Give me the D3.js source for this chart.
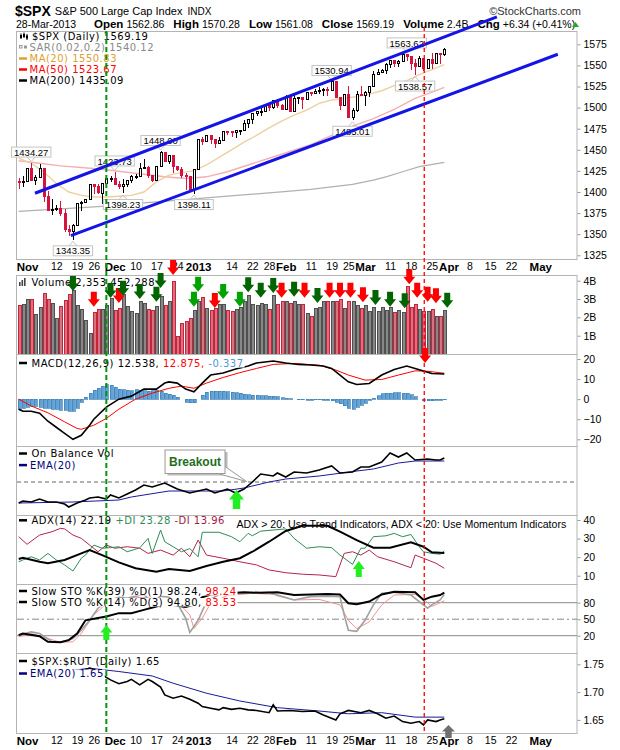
<!DOCTYPE html>
<html>
<head>
<meta charset="utf-8">
<script src="https://cdn.jsdelivr.net/npm/d3@7"></script>
<style>
  body { margin: 0; background: #fff; }
  svg { display: block; font-family: "Liberation Sans", Arial, sans-serif; }
  .lg { font-family: "DejaVu Sans", Verdana, sans-serif; font-size: 10px; letter-spacing: 0.5px; white-space: pre; }
</style>
</head>
<body>
<svg id="chart" width="620" height="750"></svg>
<script>
// $SPX daily, 26-Oct-2012 .. 28-Mar-2013 (bar index 0..102)
const opens = [1412.97,1410.99,1412.20,1427.59,1414.02,1417.26,1428.27,1394.53,1377.55,1379.86,
  1380.03,1374.64,1355.41,1353.36,1359.88,1386.82,1387.79,1391.03,1409.15,1406.29,
  1398.77,1409.96,1415.95,1416.34,1409.46,1407.05,1409.43,1413.95,1418.07,1418.55,
  1427.84,1428.48,1419.45,1413.54,1430.47,1446.79,1435.81,1443.67,1430.15,1426.66,
  1419.83,1418.10,1402.43,1426.19,1462.42,1459.37,1466.47,1461.89,1457.15,1461.02,
  1472.12,1472.05,1470.67,1472.33,1472.63,1480.95,1485.98,1492.56,1494.81,1494.82,
  1502.96,1500.18,1507.84,1501.96,1498.11,1513.17,1495.71,1511.29,1512.12,1509.39,
  1517.93,1517.01,1519.43,1520.33,1521.38,1519.79,1530.94,1511.95,1502.42,1515.60,
  1487.85,1496.94,1515.99,1514.68,1518.20,1525.20,1539.79,1541.46,1544.26,1551.15,
  1556.22,1552.48,1554.52,1563.21,1560.70,1552.10,1548.34,1558.71,1545.90,1556.89,
  1551.69,1563.75,1562.86]
const highs = [1417.09,1418.76,1428.35,1434.27,1419.90,1433.38,1428.27,1401.23,1391.39,1384.87,
  1388.81,1380.13,1360.62,1362.03,1386.89,1389.77,1391.25,1409.16,1409.15,1409.01,
  1410.31,1419.70,1418.86,1423.73,1413.14,1415.56,1413.95,1420.34,1421.64,1434.00,
  1438.59,1431.36,1419.45,1430.67,1448.00,1447.75,1443.70,1443.67,1430.15,1429.42,
  1422.80,1418.10,1426.74,1462.43,1465.47,1467.94,1466.47,1461.89,1464.73,1472.30,
  1472.75,1472.05,1473.31,1473.96,1485.16,1485.98,1492.56,1496.13,1502.27,1503.26,
  1503.23,1509.35,1509.94,1504.19,1514.41,1513.17,1514.96,1512.53,1512.90,1518.31,
  1518.31,1522.29,1524.69,1523.14,1524.24,1530.94,1530.94,1511.95,1515.64,1525.84,
  1498.99,1520.08,1525.34,1519.99,1525.27,1543.47,1545.25,1545.78,1552.48,1556.27,
  1556.77,1556.39,1563.32,1563.62,1560.70,1557.25,1561.56,1558.71,1557.74,1564.91,
  1563.95,1564.07,1570.28]
const lows = [1403.28,1405.95,1412.20,1412.91,1408.13,1417.26,1388.14,1377.51,1373.03,1377.19,
  1371.39,1352.50,1348.05,1343.35,1359.88,1377.04,1386.39,1391.03,1397.68,1398.03,
  1385.43,1409.04,1411.63,1408.46,1403.65,1398.23,1405.93,1410.90,1415.64,1418.55,
  1426.76,1416.00,1411.88,1413.54,1430.47,1435.80,1432.82,1422.58,1424.66,1416.43,
  1401.80,1401.58,1398.11,1426.19,1455.53,1458.99,1456.62,1451.64,1457.15,1461.02,
  1467.58,1465.69,1463.76,1467.60,1472.63,1475.81,1481.16,1489.90,1489.46,1494.82,
  1496.33,1498.09,1500.11,1496.76,1498.11,1495.02,1495.71,1504.71,1498.49,1509.39,
  1513.61,1515.61,1515.93,1514.02,1514.14,1519.79,1511.41,1497.29,1502.42,1487.85,
  1485.01,1494.88,1514.46,1501.48,1512.29,1525.20,1538.11,1541.46,1539.73,1547.36,
  1548.24,1548.25,1554.52,1555.74,1545.13,1538.57,1548.34,1543.55,1545.90,1546.22,
  1551.69,1551.90,1561.08]
const closes = [1411.94,1412.16,1427.59,1414.20,1417.26,1428.39,1394.53,1377.51,1379.85,1380.03,
  1374.53,1355.49,1353.33,1359.88,1386.89,1387.81,1391.03,1409.15,1406.29,1398.94,
  1409.93,1415.95,1416.18,1409.46,1407.05,1409.28,1413.94,1418.07,1418.55,1427.84,
  1428.48,1419.45,1413.58,1430.36,1446.79,1435.81,1443.69,1430.15,1426.66,1419.83,
  1418.10,1402.43,1426.19,1462.42,1459.37,1466.47,1461.89,1457.15,1461.02,1472.12,
  1472.05,1470.68,1472.34,1472.63,1480.94,1485.98,1492.56,1494.81,1494.82,1502.96,
  1500.18,1507.84,1501.96,1498.11,1513.17,1495.71,1511.29,1512.12,1509.39,1517.93,
  1517.01,1519.43,1520.33,1521.38,1519.79,1530.94,1511.95,1502.42,1515.60,1487.85,
  1496.94,1515.99,1514.68,1518.20,1525.20,1539.79,1541.46,1544.26,1551.18,1556.22,
  1552.48,1554.52,1563.23,1560.70,1552.10,1548.34,1558.71,1545.80,1556.89,1551.69,
  1563.77,1562.85,1569.19]
// volume in billions
const volume = [2.67,2.71,2.95,2.95,2.18,2.55,3.31,2.98,2.76,1.95,
  2.58,2.91,3.22,3.45,2.62,2.44,1.85,1.13,2.27,2.44,
  2.44,2.67,3.04,2.35,2.49,3.22,2.58,2.31,2.22,2.89,
  2.76,2.44,2.36,2.58,3.13,2.62,2.85,3.98,0.95,1.67,
  1.80,1.95,2.40,2.85,3.07,2.49,2.40,2.49,2.71,2.71,
  2.40,2.34,2.44,2.53,2.85,3.18,2.71,2.64,2.76,2.71,
  2.45,3.18,2.71,2.89,2.85,2.76,2.85,2.71,2.71,2.22,
  2.04,2.49,2.53,2.85,2.85,2.89,2.85,3.00,2.49,2.89,
  2.85,2.67,2.49,2.67,2.34,2.53,2.34,2.53,2.40,2.53,
  2.27,2.40,2.27,3.67,2.53,2.71,2.45,2.34,2.31,2.45,
  2.04,2.04,2.35]

// overlays and indicators: [bar index, value]
const ma20 = [[0,1440],[3,1434],[6,1424],[9,1410],[12,1400],[15,1396],[18,1394],[21,1394],[24,1395],[27,1396],
  [30,1400],[33,1412],[36,1420],[39,1423],[42,1425],[45,1432],[48,1441],[51,1450],[54,1459],[57,1467],
  [60,1476],[63,1484],[66,1491],[69,1497],[72,1505],[75,1509],[78,1511],[81,1513],[84,1516],[87,1520],
  [90,1526],[93,1532],[96,1539],[99,1545],[102,1551]]
const ma50 = [[0,1437],[5,1434],[10,1431],[15,1429],[20,1427],[25,1424],[30,1421],[35,1418],[40,1416],[45,1418],
  [50,1424],[55,1432],[60,1440],[65,1448],[70,1456],[75,1467],[80,1478],[85,1487],[90,1498],[95,1511],
  [100,1520],[102,1524]]
const ma200 = [[0,1377],[10,1380],[20,1383],[30,1387],[40,1391],[50,1395],[60,1399],[70,1403],[80,1409],
  [85,1414],[88,1418],[92,1424],[96,1430],[102,1435]]

const macdLine = [[0,-5],[1,-6],[3,-6],[5,-7],[7,-11],[9,-14],[11,-17],[13,-20],[15,-18],[17,-13],[18,-10],
  [21,-4],[24,0],[27,1.5],[30,5],[33,5],[35,8],[36,8.6],[38,8],[40,5],[42,3.7],[44,8],[46,12],[49,13],
  [52,15],[55,16.5],[57,18],[61,19],[64,18],[67,17.3],[70,17],[73,16.5],[75,15.3],[77,12],[79,8.6],
  [81,7.3],[84,7.8],[87,12],[90,14.8],[93,16.5],[95,15.3],[97,14],[99,12.8],[102,12.5]]
const macdSignal = [[0,0],[3,-3.4],[7,-6.8],[11,-11.3],[14,-14.6],[15,-15],[18,-13],[21,-9.6],[24,-5],
  [28,0],[32,3],[36,5.4],[39,6.5],[42,5.4],[45,8],[49,10.8],[53,13.2],[57,15.3],[61,17.3],[66,17.8],
  [72,16.9],[76,14.5],[79,12],[83,9.5],[87,9.8],[91,12],[95,14.1],[98,13.9],[102,12.9]]
const macdHist = [-5,-4.5,-4,-3.5,-3.5,-4,-4.5,-4.5,-5,-5,
  -5.5,-5.5,-6,-6,-4.5,-1.5,1,3,4.5,5.5,
  6.5,7.2,7,6,5,4.6,4.5,4.3,4.6,4.5,
  4.2,4,4.3,4.5,4,3,2.5,2,1,0,
  -1.5,-1.8,-1.7,0,2,3.5,4,4,4,4,
  3.8,3.5,3.3,3,2.5,2.2,2,2,1.8,1.7,
  1.5,1.5,1.2,0.8,0.5,0.2,0,-0.3,-0.3,-0.5,
  -0.5,-0.3,-0.2,-0.5,-0.5,-0.8,-1.5,-2.3,-3.2,-4.5,
  -5,-4,-3,-2,-0.5,0.5,1.8,2.8,3,3,
  3.2,3.2,3,3,2.2,1.2,0,-0.8,-0.8,-0.7,
  -0.6,-0.5,-0.34]

const obv = [[0,12],[1,14],[3,13],[5,16],[7,13],[9,13],[11,11],[12,8],[14,12],[16,15],[17,17],[19,18],
  [21,16],[22,20],[24,17],[26,21],[28,25],[30,30],[32,28],[35,32],[37,28],[38,26],[41,22],[43,24],
  [45,26],[47,22],[50,26],[52,22],[54,26],[56,33],[58,41],[61,39],[62,42],[64,38],[66,43],[69,42],
  [72,45],[75,49],[77,42],[80,43],[82,48],[84,48],[87,53],[89,62],[91,58],[93,62],[95,55],[98,56],
  [100,55],[101,55],[102,57]]
const obvEma = [[0,12],[13,13],[24,15],[27,18],[36,24],[49,24],[54,27],[60,33],[64,36],[72,39],[81,44],
  [85,46],[91,52],[95,54],[102,54]]
const obvBreakout = 33

const adx = [[0,19],[1,19.7],[5,17.5],[7,16.7],[11,18.5],[15,22],[17,23.8],[20,21.1],[24,17.2],[28,14],
  [33,12.2],[36,13.6],[41,12.5],[45,15.2],[49,17.5],[53,19.4],[56,22.9],[60,28.3],[64,34.1],[68,36.9],
  [74,36.9],[77,33.7],[81,29.2],[85,25.1],[89,25.1],[94,28],[97,25.6],[99,22.6],[102,22.2]]
const plusDI = [[0,17.5],[1,18.5],[3,20.2],[5,18.5],[7,22],[9,18.5],[11,15.8],[13,12.5],[15,19.4],[16,21.1],
  [18,26.5],[20,24.8],[22,25.1],[24,25.6],[26,22.9],[29,25],[31,30.1],[32,22],[34,34.6],[35,28.3],
  [37,25.6],[39,22.9],[41,24.6],[43,20.2],[44,33.4],[48,33.4],[51,31],[53,28.3],[55,32.8],[56,31.5],
  [58,34],[61,34.6],[64,35.2],[66,30.1],[69,24.8],[72,25.6],[75,25.1],[77,21.1],[80,16.1],[82,24.8],
  [83,24.8],[85,31],[88,31.5],[90,32.8],[92,31],[94,32.2],[96,25.6],[97,22.9],[99,22],[101,21.6],[102,23.3]]
const minusDI = [[0,31],[2,26.9],[5,31.9],[8,33.7],[10,35.5],[11,35.2],[13,31.9],[15,30.1],[17,26.5],
  [19,22.9],[21,26.5],[23,24.8],[26,25.6],[29,24.8],[31,22],[34,23.8],[37,21.1],[39,24.8],[41,20.2],
  [43,29.2],[45,21.1],[49,19.4],[53,17.5],[57,15.8],[60,13.1],[64,11.6],[68,10.8],[72,10.4],[76,9.5],
  [77,15.8],[78,22],[80,22.9],[82,21.1],[84,23.8],[86,20.2],[90,17.5],[94,14.3],[95,21.1],[97,19.4],
  [100,16.7],[102,14]]

const stoK39 = [[0,21],[1,24],[5,19],[7,9],[10,8],[12,12],[14,24],[16,48],[19,52],[21,55],[24,61],[27,61],
  [30,67],[33,73],[35,78],[37,76],[40,72],[42,76],[44,90],[46,95],[50,97],[54,99],[58,98],[62,99],
  [66,94],[70,95],[74,96],[77,95],[79,79],[81,77],[84,82],[87,95],[90,100],[95,99],[97,85],[99,91],
  [101,94],[102,98.2]]
const stoK14 = [[0,21],[3,27],[5,24],[8,9],[10,8],[13,15],[15,30],[17,48],[19,70],[20,76],[22,85],[24,90],
  [26,88],[28,92],[30,95],[32,80],[34,92],[36,90],[38,79],[40,52],[41,26],[43,48],[45,82],[48,95],
  [52,97],[56,98],[60,99],[62,93],[66,85],[70,91],[74,92],[77,91],[78,58],[79,30],[81,28],[83,48],
  [85,76],[87,97],[90,99],[94,94],[96,82],[98,70],[99,76],[101,85],[102,94.8]]
const stoD3 = [[0,18],[3,24],[7,15],[10,8],[13,9],[15,24],[18,58],[21,78],[24,86],[28,90],[32,88],[36,87],
  [38,82],[41,58],[42,33],[44,52],[46,79],[50,93],[56,97],[62,95],[66,85],[72,86],[77,76],[79,48],
  [81,33],[84,45],[87,76],[90,94],[95,95],[97,87],[99,73],[102,83.5]]

const spxRut = [[0,1.733],[5,1.731],[10,1.734],[14,1.735],[17,1.743],[19,1.738],[20,1.731],[22,1.722],
  [24,1.715],[26,1.719],[27,1.723],[29,1.713],[31,1.723],[32,1.719],[34,1.709],[35,1.695],[37,1.689],
  [39,1.693],[41,1.687],[43,1.680],[44,1.674],[46,1.671],[48,1.668],[49,1.672],[51,1.669],[53,1.671],
  [55,1.668],[57,1.667],[60,1.663],[61,1.677],[62,1.666],[65,1.667],[68,1.665],[71,1.666],[73,1.659],
  [76,1.650],[77,1.661],[79,1.667],[82,1.663],[84,1.667],[86,1.661],[88,1.653],[90,1.657],[92,1.647],
  [94,1.644],[96,1.647],[97,1.641],[98,1.650],[100,1.647],[101,1.650],[102,1.652]]
const spxRutEma = [[0,1.733],[10,1.736],[17,1.743],[24,1.737],[32,1.729],[37,1.716],[45,1.698],[53,1.684],
  [62,1.672],[72,1.666],[79,1.661],[87,1.663],[95,1.655],[102,1.655]]

// date axis
const tickIdx = [2,9,14,18,23,28,33,38,43,51,56,60,64,70,75,79,83,89,94,99,103,108,113,118,125]
const tickText = ['Nov','12','19','26','Dec','10','17','24','2013','14','22','28','Feb','11','19','25',
  'Mar','11','18','25','Apr','8','15','22','May']
const monthLabels = ['Nov','Dec','2013','Feb','Mar','Apr','May']

// annotations: [bar index, price, side]
const priceNotes = [[3,1434.27,'hi'],[23,1423.73,'hi'],[34,1448.00,'hi'],[13,1343.35,'lo'],[25,1398.23,'lo'],
  [42,1398.11,'lo'],[75,1530.94,'hi'],[80,1485.01,'lo'],[93,1563.62,'hi'],[95,1538.57,'lo']]
const channelUpper = [[3.9,1398.5],[114.6,1607.5]]
const channelLower = [[12.5,1348.2],[129.2,1563.2]]
const greenMarker = 21
const redMarker = 97
// volume arrows: [bar index, tip (B), colour key]
const volArrows = [[13,3.44,'dk'],[18,2.58,'r'],[22,3.06,'dk'],[24,2.78,'r'],[25,3.18,'dk'],[29,3.0,'dk'],
  [33,2.85,'dk'],[34,3.6,'dk'],[37,4.31,'r'],[42,2.58,'g'],[43,3.4,'g'],[47,2.51,'r'],[49,3.0,'g'],
  [53,2.58,'g'],[55,3.37,'dk'],[58,3.07,'dk'],[61,3.33,'dk'],[63,3.07,'r'],[66,3.13,'dk'],[68.5,3.07,'r'],
  [71.6,2.78,'dk'],[74.5,3.07,'r'],[77,3.07,'r'],[79.5,3.07,'r'],[82.5,2.82,'r'],[85.5,2.67,'dk'],
  [89,2.58,'dk'],[92.5,2.49,'dk'],[93.6,3.8,'r'],[95.5,3.07,'r'],[98,2.85,'r'],[100,2.77,'r'],[102.7,2.53,'dk']]
const arrowColors = { dk: '#006400', g: '#00a300', r: '#ff0000' }

const quote = [['Open','1562.86'],['High','1570.28'],['Low','1561.08'],['Close','1569.19'],
  ['Volume','2.4B'],['Chg','+6.34 (+0.41%)']]

// ---------------------------------------------------------------

const svg = d3.select('#chart')
const L = 17, R = 577
const RED = '#d6123e'

const x = d3.scaleLinear().domain([-0.41, 133.8]).range([L, R])

const panels = {
  price: [31, 259], vol: [275, 354], macd: [354, 446], obv: [446, 515],
  adx: [515, 584], sto: [584, 653], rut: [653, 733]
}

const priceY = d3.scaleLinear().domain([1325, 1575]).range([255.3, 44.3])
const volY = d3.scaleLinear().domain([0, 4]).range([354, 280.7])
const macdY = d3.scaleLinear().domain([-20, 20]).range([439.3, 359])
const obvY = d3.scaleLinear().domain([0, 69]).range([515, 446])
const adxY = d3.scaleLinear().domain([10, 40]).range([575.7, 520])
const stoY = d3.scaleLinear().domain([20, 80]).range([635.7, 602.7])
const rutY = d3.scaleLinear().domain([1.65, 1.75]).range([719.9, 664.3])

const defs = svg.append('defs')
Object.entries(panels).forEach(([k, [t, b]]) => {
  defs.append('clipPath').attr('id', 'clip-' + k)
    .append('rect').attr('x', L).attr('y', t).attr('width', R - L).attr('height', b - t)
})

// frames
Object.values(panels).forEach(([t, b]) => {
  svg.append('rect')
    .attr('x', L - 0.5).attr('y', t + 0.5)
    .attr('width', R - L + 0.5).attr('height', b - t)
    .attr('fill', 'none').attr('stroke', '#b4b4b4')
})

function rightAxis(y, vals, fmt) {
  const g = svg.append('g')
    .attr('transform', `translate(${R + 0.5},0)`)
    .call(d3.axisRight(y).tickValues(vals).tickSize(3).tickPadding(3).tickFormat(fmt))
  g.select('.domain').remove()
  g.selectAll('line').attr('stroke', '#999')
  g.selectAll('text').attr('font-size', 10.5).attr('fill', '#000')
    .attr('font-family', '"Liberation Sans", Arial, sans-serif')
}
rightAxis(priceY, d3.range(1325, 1576, 25), d3.format('d'))
rightAxis(volY, [1, 2, 3, 4], d => d + 'B')
rightAxis(macdY, [-20, -10, 0, 10, 20], d3.format('d'))
rightAxis(adxY, [10, 20, 30, 40], d3.format('d'))
rightAxis(stoY, [20, 50, 80], d3.format('d'))
rightAxis(rutY, [1.65, 1.70, 1.75], d3.format('.2f'))

function dateAxis(yPos, pad) {
  const g = svg.append('g')
    .attr('transform', `translate(0,${yPos})`)
    .call(d3.axisBottom(x).tickValues(tickIdx).tickSize(0).tickPadding(pad)
      .tickFormat((d, i) => tickText[i]))
  g.select('.domain').remove()
  g.selectAll('text')
    .attr('fill', '#000')
    .attr('font-family', '"Liberation Sans", Arial, sans-serif')
    .attr('font-weight', (d, i) => monthLabels.includes(tickText[i]) ? 'bold' : 'normal')
    .attr('font-size', (d, i) => monthLabels.includes(tickText[i]) ? 11.5 : 10.5)
}
dateAxis(259, 4)
dateAxis(733, 3.5)

// header
const t1 = svg.append('text').attr('x', 15).attr('y', 16).attr('font-size', 14).attr('font-weight', 'bold').text('$SPX')
const t2 = svg.append('text').attr('x', 15 + t1.node().getComputedTextLength() + 4).attr('y', 15)
  .attr('font-size', 11).text('S&P 500 Large Cap Index')
svg.append('text').attr('x', +t2.attr('x') + t2.node().getComputedTextLength() + 5).attr('y', 15)
  .attr('font-size', 10).text('INDX')
svg.append('text').attr('x', 581).attr('y', 15).attr('font-size', 11).attr('text-anchor', 'end')
  .attr('fill', '#333').text('\u00A9StockCharts.com')
svg.append('text').attr('x', 16).attr('y', 28).attr('font-size', 10.5).text('28-Mar-2013')
let cursor = 94
quote.forEach(([lab, val]) => {
  const a = svg.append('text').attr('x', cursor).attr('y', 28).attr('font-size', 11.5)
    .attr('font-weight', 'bold').text(lab)
  cursor += a.node().getComputedTextLength() + 3
  const b = svg.append('text').attr('x', cursor).attr('y', 28).attr('font-size', 10.5).text(val)
  cursor += b.node().getComputedTextLength() + 9
})
svg.append('polygon').attr('points', '572,27 579,27 575.5,22').attr('fill', '#22aa22')

// price panel
const pg = svg.append('g').attr('clip-path', 'url(#clip-price)')
const line = y => d3.line().x(d => x(d[0])).y(d => y(d[1]))

pg.append('path').datum(ma200).attr('d', line(priceY)).attr('fill', 'none').attr('stroke', '#b0b0b0').attr('stroke-width', 1.2)
pg.append('path').datum(ma50).attr('d', line(priceY)).attr('fill', 'none').attr('stroke', '#f4b0b0').attr('stroke-width', 1.4)
pg.append('path').datum(ma20).attr('d', line(priceY)).attr('fill', 'none').attr('stroke', '#eed0a0').attr('stroke-width', 1.4)

const cg = pg.append('g').attr('shape-rendering', 'crispEdges')
closes.forEach((c, i) => {
  const o = opens[i]
  const prev = i ? closes[i - 1] : opens[0]
  const col = c < prev ? RED : '#000'
  const px = Math.round(x(i))
  cg.append('line')
    .attr('x1', px + 0.5).attr('x2', px + 0.5)
    .attr('y1', priceY(highs[i])).attr('y2', priceY(lows[i]))
    .attr('stroke', col)
  const top = priceY(Math.max(o, c)), bot = priceY(Math.min(o, c))
  cg.append('rect')
    .attr('x', px - 0.5).attr('y', top)
    .attr('width', 2).attr('height', Math.max(bot - top, 1))
    .attr('fill', c >= o ? '#fff' : col).attr('stroke', col)
})

// volume
const vg = svg.append('g').attr('clip-path', 'url(#clip-vol)').attr('shape-rendering', 'crispEdges')
vg.selectAll('rect').data(volume).join('rect')
  .attr('x', (d, i) => Math.round(x(i)) - 1)
  .attr('y', d => volY(d))
  .attr('width', 3)
  .attr('height', d => volY(0) - volY(d))
  .attr('fill', (d, i) => closes[i] < (i ? closes[i - 1] : opens[0]) ? '#d7727e' : '#888')
  .attr('stroke', (d, i) => closes[i] < (i ? closes[i - 1] : opens[0]) ? '#c4243e' : '#505050')

// MACD
const mg = svg.append('g').attr('clip-path', 'url(#clip-macd)')
mg.append('g').attr('shape-rendering', 'crispEdges')
  .selectAll('rect').data(macdHist).join('rect')
  .attr('x', (d, i) => Math.round(x(i)) - 1)
  .attr('y', d => Math.min(macdY(d), macdY(0)))
  .attr('width', 3)
  .attr('height', d => Math.abs(macdY(d) - macdY(0)))
  .attr('fill', '#5ea2d8').attr('stroke', '#3c7fb8').attr('stroke-width', 0.7)
mg.append('path').datum(macdSignal).attr('d', line(macdY)).attr('fill', 'none').attr('stroke', '#ff0000').attr('stroke-width', 1)
mg.append('path').datum(macdLine).attr('d', line(macdY)).attr('fill', 'none').attr('stroke', '#000').attr('stroke-width', 1.6)

// OBV
const og = svg.append('g').attr('clip-path', 'url(#clip-obv)')
og.append('line').attr('x1', L).attr('x2', R).attr('y1', obvY(obvBreakout)).attr('y2', obvY(obvBreakout))
  .attr('stroke', '#999').attr('stroke-width', 1.5).attr('stroke-dasharray', '4,3')
og.append('path').datum(obvEma).attr('d', line(obvY)).attr('fill', 'none').attr('stroke', '#1a1a9a').attr('stroke-width', 1)
og.append('path').datum(obv).attr('d', line(obvY)).attr('fill', 'none').attr('stroke', '#000').attr('stroke-width', 1.6)

// ADX
const ag = svg.append('g').attr('clip-path', 'url(#clip-adx)')
ag.append('path').datum(minusDI).attr('d', line(adxY)).attr('fill', 'none').attr('stroke', '#b3244e').attr('stroke-width', 1)
ag.append('path').datum(plusDI).attr('d', line(adxY)).attr('fill', 'none').attr('stroke', '#2e8b57').attr('stroke-width', 1)
ag.append('path').datum(adx).attr('d', line(adxY)).attr('fill', 'none').attr('stroke', '#000').attr('stroke-width', 2)

// Slow stochastics
const sg = svg.append('g').attr('clip-path', 'url(#clip-sto)')
;[80, 20].forEach(v => sg.append('line').attr('x1', L).attr('x2', R).attr('y1', stoY(v)).attr('y2', stoY(v))
  .attr('stroke', '#888').attr('stroke-width', 1))
sg.append('line').attr('x1', L).attr('x2', R).attr('y1', stoY(50)).attr('y2', stoY(50))
  .attr('stroke', '#888').attr('stroke-dasharray', '7,3,2,3')
sg.append('path').datum(stoD3).attr('d', line(stoY)).attr('fill', 'none').attr('stroke', '#f49494').attr('stroke-width', 1)
sg.append('path').datum(stoK14).attr('d', line(stoY)).attr('fill', 'none').attr('stroke', '#a0a0a0').attr('stroke-width', 1.6)
sg.append('path').datum(stoK39).attr('d', line(stoY)).attr('fill', 'none').attr('stroke', '#000').attr('stroke-width', 2)

// $SPX:$RUT
const rg = svg.append('g').attr('clip-path', 'url(#clip-rut)')
rg.append('path').datum(spxRutEma).attr('d', line(rutY)).attr('fill', 'none').attr('stroke', '#1a1a9a').attr('stroke-width', 1)
rg.append('path').datum(spxRut).attr('d', line(rutY)).attr('fill', 'none').attr('stroke', '#000').attr('stroke-width', 1.6)

// legends
function legendRow(tx, ty, parts, marker) {
  const g = svg.append('g')
  const bg = g.append('rect').attr('fill', '#fff')
  const t = g.append('text').attr('class', 'lg').attr('x', tx).attr('y', ty)
  parts.forEach(([s, c]) => t.append('tspan').attr('fill', c).text(s))
  const b = t.node().getBBox()
  bg.attr('x', 18).attr('y', b.y + 1.5).attr('width', b.x + b.width + 1 - 18).attr('height', b.height - 2.5)
  if (marker) {
    g.append('line').attr('x1', 19).attr('x2', 27).attr('y1', ty - 3.5).attr('y2', ty - 3.5)
      .attr('stroke', marker).attr('stroke-width', 2.5)
  }
  return g
}

const r1 = legendRow(32, 39.8, [['$SPX (Daily) 1569.19', '#000']])
;[[21, 33.5, 39, 35, 38], [24, 32.5, 38, 34, 37], [27, 34, 40, 35.5, 38.5]].forEach(([cx, y1, y2, b1, b2]) => {
  r1.append('line').attr('x1', cx).attr('x2', cx).attr('y1', y1).attr('y2', y2).attr('stroke', '#000')
  r1.append('rect').attr('x', cx - 1).attr('y', b1).attr('width', 2).attr('height', b2 - b1).attr('fill', '#000')
})
const r2 = legendRow(29.5, 51, [['SAR(0.02,0.2) 1540.12', '#8a8a8a']])
r2.append('rect').attr('x', 19.5).attr('y', 45.5).attr('width', 2.5).attr('height', 2.5).attr('fill', 'none').attr('stroke', '#999')
r2.append('rect').attr('x', 24).attr('y', 45.5).attr('width', 3).attr('height', 3).attr('fill', '#999')
legendRow(29.5, 62, [['MA(20) 1550.83', '#e0a030']], '#e0a030')
legendRow(29.5, 73, [['MA(50) 1523.67', '#ff0000']], '#ff0000')
legendRow(29.5, 84, [['MA(200) 1435.09', '#000']], '#000')

const rv = legendRow(31.5, 285.5, [['Volume 2,353,452,288', '#000']])
;[[19, 4], [21.5, 6], [24, 8]].forEach(([bx, h]) => rv.append('rect').attr('x', bx).attr('y', 286 - h)
  .attr('width', 1.6).attr('height', h).attr('fill', '#444'))

legendRow(31.5, 366.5, [['MACD(12,26,9) 12.538, ', '#000'], ['12.875, ', '#ff0000'], ['-0.337', '#4a9ad4']], '#000')
legendRow(31.5, 457, [['On Balance Vol', '#000']], '#000')
legendRow(30, 468.6, [['EMA(20)', '#000080']], '#000080')
legendRow(31.5, 523.8, [['ADX(14) 22.19 ', '#000'], ['+DI 23.28 ', '#2e8b57'], ['-DI 13.96', '#a01840']], '#000')
svg.append('text').attr('x', 236.5).attr('y', 528).attr('font-size', 10.6)
  .text('ADX > 20: Use Trend Indicators, ADX < 20: Use Momentum Indicators')
legendRow(31.5, 594.5, [['Slow STO %K(39) %D(1) 98.24, ', '#000'], ['98.24', '#ff0000']], '#000')
legendRow(31.5, 605.5, [['Slow STO %K(14) %D(3) 94.80, ', '#000'], ['83.53', '#ff0000']], '#000')
legendRow(31.5, 664.5, [['$SPX:$RUT (Daily) 1.65', '#000']], '#000')
legendRow(30, 677, [['EMA(20) 1.65', '#000080']], '#000080')

// price annotations
const ng = svg.append('g')
priceNotes.forEach(([i, v, side]) => {
  const px = x(i), py = priceY(v)
  const txt = ng.append('text').attr('font-size', 9.5).attr('text-anchor', 'middle').text(v.toFixed(2))
  const w = txt.node().getComputedTextLength() + 5
  const boxTop = side === 'hi' ? py - 16 : py + 6
  const tipBase = side === 'hi' ? py - 6 : py + 6
  ng.insert('rect', 'text')
    .attr('x', px - w / 2).attr('y', boxTop).attr('width', w).attr('height', 10)
    .attr('fill', '#fff').attr('stroke', '#c4c4c4')
  ng.append('polyline')
    .attr('points', `${px - 4},${tipBase} ${px},${side === 'hi' ? py - 1.5 : py + 1.5} ${px + 4},${tipBase}`)
    .attr('fill', 'none').attr('stroke', '#c4c4c4')
  txt.attr('x', px).attr('y', boxTop + 8.6)
  txt.raise()
})

// trend channel
;[channelUpper, channelLower].forEach(c => {
  svg.append('line')
    .attr('x1', x(c[0][0])).attr('y1', priceY(c[0][1]))
    .attr('x2', x(c[1][0])).attr('y2', priceY(c[1][1]))
    .attr('stroke', '#1414e6').attr('stroke-width', 3)
})

// breakout callout
const bx = x(54.6), by = obvY(obvBreakout) - 0.5
svg.append('rect').attr('x', bx - 79).attr('y', by - 29.5).attr('width', 60).attr('height', 23.5).attr('fill', '#bbb')
svg.append('polygon')
  .attr('points', `${bx - 36},${by - 10} ${bx - 23},${by - 16} ${bx},${by}`)
  .attr('fill', '#fff').attr('stroke', '#999')
svg.append('rect').attr('x', bx - 81.5).attr('y', by - 31.5).attr('width', 60).attr('height', 23.5)
  .attr('fill', '#fff').attr('stroke', '#999')
svg.append('text').attr('x', bx - 51.5).attr('y', by - 15.5).attr('text-anchor', 'middle')
  .attr('font-size', 12).attr('font-weight', 'bold').attr('fill', '#1e6e1e').text('Breakout')

// vertical markers
svg.append('line').attr('x1', x(greenMarker)).attr('x2', x(greenMarker)).attr('y1', 31).attr('y2', 733)
  .attr('stroke', '#00960a').attr('stroke-width', 2).attr('stroke-dasharray', '5,3')
svg.append('line').attr('x1', x(redMarker) + 0.8).attr('x2', x(redMarker) + 0.8).attr('y1', 27).attr('y2', 733)
  .attr('stroke', '#ff0000').attr('stroke-width', 1.3).attr('stroke-dasharray', '4,3')

// arrows
function arrow(cx, tip, dir, w, h, fill) {
  const hh = h * 0.5, sw = w * 0.5
  const base = tip - dir * h, mid = tip - dir * hh
  const pts = [[cx - sw / 2, base], [cx + sw / 2, base], [cx + sw / 2, mid], [cx + w / 2, mid],
    [cx, tip], [cx - w / 2, mid], [cx - sw / 2, mid]]
  svg.append('polygon').attr('points', pts.map(p => p.join(',')).join(' ')).attr('fill', fill)
}
volArrows.forEach(([i, v, k]) => arrow(x(i), volY(v), 1, 12, 15, arrowColors[k]))
arrow(x(97.4), macdY(18), 1, 12, 15, '#ff0000')
arrow(x(52.2), obvY(25), -1, 15, 19, '#22ee22')
arrow(x(81.5), adxY(17.9), -1, 12, 16, '#22ee22')
arrow(x(21), stoY(39.5), -1, 12, 15, '#22ee22')
arrow(x(103), rutY(1.641), -1, 13, 13, '#707070')
</script>
</body>
</html>
